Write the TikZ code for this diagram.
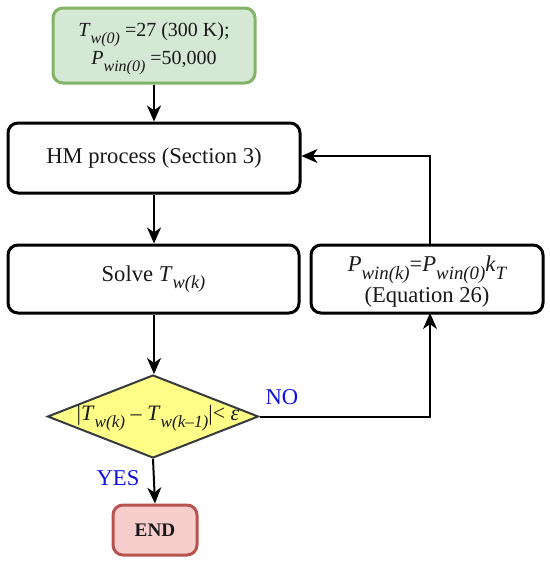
\documentclass[tikz,border=0pt]{standalone}
\usepackage{fontspec}
\setmainfont{Liberation Serif}
\usetikzlibrary{shapes.geometric,arrows.meta,calc}
\definecolor{gfill}{HTML}{D5E8D4}
\definecolor{gline}{HTML}{82B366}
\definecolor{yfill}{HTML}{FFFF88}
\definecolor{yline}{HTML}{36393D}
\definecolor{rfill}{HTML}{F8CECC}
\definecolor{rline}{HTML}{B85450}
\definecolor{lblue}{HTML}{1010E0}
\newcommand\lsub[2][8.8]{\raisebox{-0.33em}{\fontsize{#1}{#1}\selectfont\itshape #2}}
\tikzset{
  txt/.style={font=\fontsize{11.3}{15.5}\selectfont, text=black!90, align=center, inner sep=0pt},
  procbox/.style={txt, draw=black, line width=1.5pt, rounded corners=5pt, fill=white},
  conn/.style={line width=1pt, -{Stealth[length=8pt,width=7pt,inset=2.4pt]}},
  lbl/.style={font=\fontsize{11.3}{13}\selectfont, text=lblue, inner sep=0pt}
}
\begin{document}
\begin{tikzpicture}[x=0.5pt,y=-0.5pt]
\useasboundingbox (0,0) rectangle (550,562);
\node[procbox, draw=gline, fill=gfill, minimum width=101pt, minimum height=37.5pt] (start) at (154,45.5) {};
\node[txt, font=\fontsize{10}{14}\selectfont] (starttxt) at (154,48.5)
  {\textit{T}\lsub[8]{w(0)} =27 (300 K);\\\textit{P}\lsub[8]{win(0)} =50,000};
\node[procbox, minimum width=146pt, minimum height=35pt] (hm) at (154,158) {HM process (Section 3)};
\node[procbox, minimum width=145.5pt, minimum height=34pt] (solve) at (153.5,279) {Solve \textit{T}\lsub[9.2]{w(k)}};
\node[procbox, minimum width=116pt, minimum height=34pt] (upd) at (427,279) {};
\node[txt] (updtxt) at (427,282)
  {\textit{P}\lsub[9.4]{win(k)}=\textit{P}\lsub[9.4]{win(0)}\textit{k}\lsub[9.4]{T}\\(Equation 26)};
\node[diamond, draw=yline, fill=yfill, line width=1pt, minimum width=105.5pt, minimum height=41.5pt, inner sep=0pt] (dec) at (153,416.5) {};
\node[txt, font=\fontsize{11}{13}\selectfont] (dectxt) at (158,418) {|\textit{T}\lsub[8.6]{w(k)} – \textit{T}\lsub[8.6]{w(k–1)}|< \textit{ε}};
\node[procbox, draw=rline, fill=rfill, minimum width=42pt, minimum height=25pt, font=\fontsize{9.6}{12}\selectfont\bfseries] (end) at (155,530) {END};
\node[lbl] (yes) at (118,478) {YES};
\node[lbl] (no) at (282,397) {NO};
\coordinate (upin) at (430,313);
\coordinate (upout) at (430,245);
\draw[conn] (start.south) -- (start.south |- hm.north);
\draw[conn] (start.south |- hm.south) -- (start.south |- solve.north);
\draw[conn] (start.south |- solve.south) -- (start.south |- dec.north);
\draw[conn] (dec.south) -- (end.north);
\draw[conn] (dec.east) -| (upin);
\draw[conn] (upout) |- ($(hm.east)+(0,-2)$);
\end{tikzpicture}
\end{document}
